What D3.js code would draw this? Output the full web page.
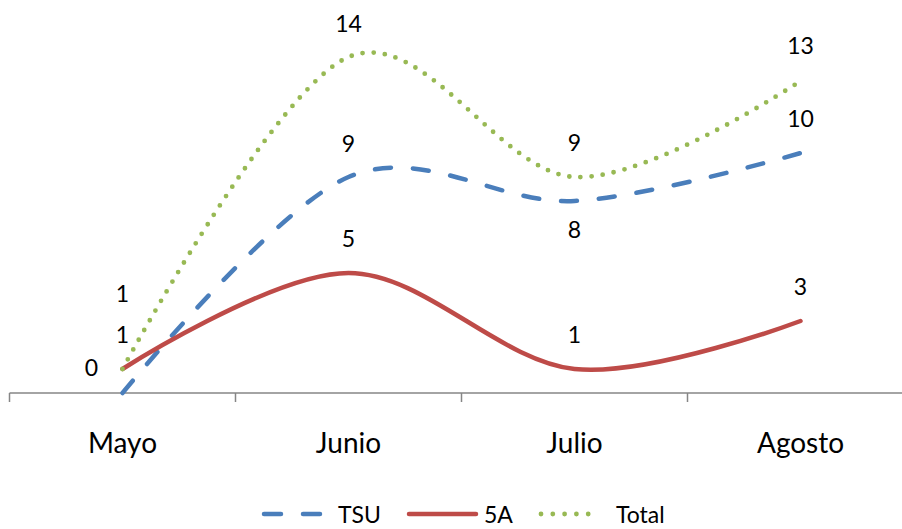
<!DOCTYPE html>
<html>
<head>
<meta charset="utf-8">
<script src="https://cdn.jsdelivr.net/npm/d3@7"></script>
<style>
  html, body { margin: 0; padding: 0; background: #fff; }
  svg { display: block; font-family: Lato, "Open Sans", sans-serif; }
</style>
</head>
<body>
<svg id="chart" width="902" height="529"></svg>
<script>
// ---- data ----
const categories = ["Mayo", "Junio", "Julio", "Agosto"];
const tsuValues = [0, 9, 8, 10];
const fiveAValues = [1, 5, 1, 3];
const totalValues = [1, 14, 9, 13];
const seriesNames = ["TSU", "5A", "Total"];

// ---- styles ----
const styles = {
  "TSU":   { color: "#4A7EBB", dash: "16 22", width: 4.5 },
  "5A":    { color: "#BE4B48", dash: null, width: 4.5 },
  "Total": { color: "#98B954", dash: "0 11.2", width: 4.8 }
};
// label offsets (dx, dy baseline) per series per point
const labelOffsets = {
  "TSU":   [[-31, -17], [0, -25], [0, 37], [0, -26]],
  "5A":    [[0, -26], [0, -26], [0, -26], [0, -26]],
  "Total": [[0, -67], [0, -25], [0, -26], [0, -27]]
};

const series = [
  { name: "TSU", values: tsuValues },
  { name: "5A", values: fiveAValues },
  { name: "Total", values: totalValues }
];

const svg = d3.select("#chart");

const x = d3.scaleBand().domain(categories).range([9.5, 913.5]);
const y = d3.scaleLinear().domain([0, 16]).range([393, 9]);

// axis
const axis = d3.axisBottom(x).tickSize(0).tickFormat("");
const axisG = svg.append("g").attr("transform", `translate(0,${y(0)})`).call(axis);
axisG.select(".domain").attr("stroke", "#868686").attr("stroke-width", 1.5)
  .attr("d", `M9.5,0H913.5`);
// boundary ticks
const bounds = categories.map(c => x(c)).concat([x(categories[categories.length-1]) + x.step()]);
axisG.selectAll("line.bt").data(bounds).enter().append("line")
  .attr("class", "bt")
  .attr("x1", d => d).attr("x2", d => d)
  .attr("y1", 0).attr("y2", 9)
  .attr("stroke", "#868686").attr("stroke-width", 1.5);

// category labels
svg.append("g").selectAll("text").data(categories).enter().append("text")
  .attr("x", d => x(d) + x.bandwidth() / 2)
  .attr("y", 453)
  .attr("text-anchor", "middle")
  .attr("font-size", 28)
  .attr("fill", "#000")
  .text(d => d);

const line = d3.line()
  .x((d, i) => x(categories[i]) + x.bandwidth() / 2)
  .y(d => y(d))
  .curve(d3.curveCardinal.tension(0));

const linesG = svg.append("g");
series.forEach(s => {
  const st = styles[s.name];
  linesG.append("path")
    .datum(s.values)
    .attr("d", line)
    .attr("fill", "none")
    .attr("stroke", st.color)
    .attr("stroke-width", st.width)
    .attr("stroke-linecap", "round")
    .attr("stroke-dasharray", st.dash);
});

// data labels
const labelsG = svg.append("g");
series.forEach(s => {
  labelsG.selectAll(null).data(s.values).enter().append("text")
    .attr("x", (d, i) => x(categories[i]) + x.bandwidth() / 2 + labelOffsets[s.name][i][0])
    .attr("y", (d, i) => y(d) + labelOffsets[s.name][i][1])
    .attr("text-anchor", "middle")
    .attr("font-size", 23)
    .attr("fill", "#000")
    .text(d => d);
});

// legend
const legendItems = [
  { name: "TSU", x1: 264, x2: 321, tx: 338 },
  { name: "5A", x1: 409, x2: 476, tx: 484 },
  { name: "Total", x1: 541, x2: 600, tx: 616 }
];
const legY = 514;
const legG = svg.append("g");
legendItems.forEach(it => {
  const st = styles[it.name];
  legG.append("line")
    .attr("x1", it.x1).attr("x2", it.x2)
    .attr("y1", legY).attr("y2", legY)
    .attr("stroke", st.color)
    .attr("stroke-width", st.width)
    .attr("stroke-linecap", "round")
    .attr("stroke-dasharray", it.name === "TSU" ? "17 22" : (it.name === "Total" ? "0 11.8" : null));
  legG.append("text")
    .attr("x", it.tx).attr("y", legY + 8.5)
    .attr("font-size", 23)
    .attr("fill", "#000")
    .text(it.name);
});
</script>
</body>
</html>
